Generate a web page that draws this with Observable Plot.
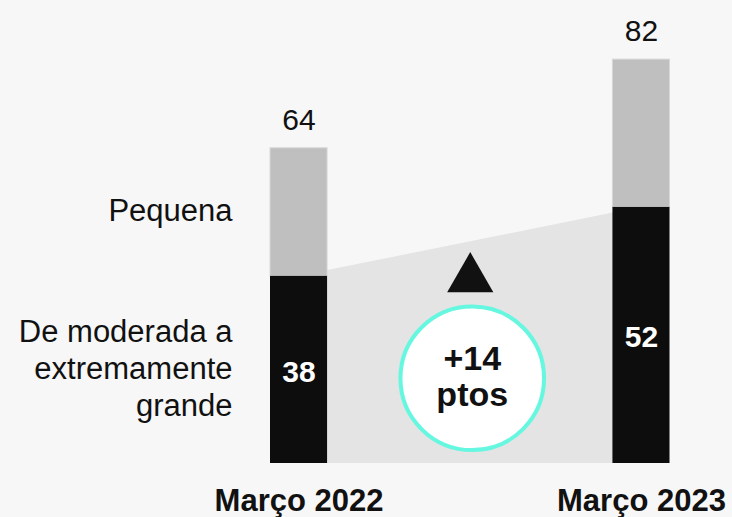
<!DOCTYPE html>
<html>
<head>
<meta charset="utf-8">
<script src="https://cdn.jsdelivr.net/npm/d3@7"></script>
<script src="https://cdn.jsdelivr.net/npm/@observablehq/plot@0.6"></script>
<style>
  html, body { margin: 0; padding: 0; background: #f7f7f7; }
  #chart { width: 732px; height: 517px; }
</style>
</head>
<body>
<div id="chart"></div>
<script>
// ---- Data ----
const periods = ["Março 2022", "Março 2023"];
const lowerValues = [38, 52];          // De moderada a extremamente grande
const totals = [64, 82];               // total (top of stacked bar)
const segmentLabels = ["De moderada a\nextremamente\ngrande", "Pequena"];
const changeLabel = "+14\nptos";

// ---- Build tables ----
const half = 1 / 12; // half bar width in index units
const lower = periods.map((p, i) => ({i, period: p, y1: 0, y2: lowerValues[i], v: lowerValues[i]}));
const upper = periods.map((p, i) => ({i, period: p, y1: lowerValues[i], y2: totals[i], v: totals[i]}));
const legend = [
  {text: segmentLabels[0], y: lowerValues[0] / 2},
  {text: segmentLabels[1], y: (lowerValues[0] + totals[0]) / 2}
];
const change = [{text: changeLabel, x: 0.5}];
const teal = "#66f7e0";
const font = "'Liberation Sans', Arial, sans-serif";

const chart = Plot.plot({
  width: 732,
  height: 517,
  marginTop: 0,
  marginBottom: 54,
  marginLeft: 270,
  marginRight: 62.5,
  style: {background: "#f7f7f7", fontFamily: font, color: "#111"},
  x: {type: "linear", domain: [-half, 1 + half], axis: null},
  y: {domain: [0, 94], axis: null},
  marks: [
    Plot.areaY(lower, {x: "i", y: "v", fill: "#e4e4e4"}),
    Plot.rect(upper, {x1: d => d.i - half, x2: d => d.i + half, y1: "y1", y2: "y2",
      fill: "#bfbfbf", stroke: "#d8d8d8", strokeWidth: 1}),
    Plot.rect(lower, {x1: d => d.i - half, x2: d => d.i + half, y1: "y1", y2: "y2", fill: "#0d0d0d"}),
    Plot.text(upper, {x: "i", y: "y2", text: d => String(d.v), lineAnchor: "bottom", dy: -18.5,
      fontSize: 30, fill: "#111"}),
    Plot.text(lower, {x: "i", y: d => d.v / 2, text: d => String(d.v), fill: "#fff",
      fontWeight: "bold", fontSize: 30, dy: 2}),
    Plot.text(legend, {x: -half, y: "y", text: "text", dx: -38, dy: -3, textAnchor: "end",
      fontSize: 31, lineHeight: 1.2, fill: "#111"}),
    Plot.dot(change, {x: "x", y: 37.5, symbol: "triangle", r: 17.15, fill: "#111"}),
    Plot.dot(change, {x: "x", y: 17.3, r: 71.8, fill: "#fff", stroke: teal, strokeWidth: 4, dx: 2}),
    Plot.text(change, {x: "x", y: 17.3, text: "text", fontSize: 34, fontWeight: "bold",
      lineHeight: 1.04, dx: 2, dy: -1.7, fill: "#111"}),
    Plot.axisX({ticks: periods.map((_, i) => i), tickFormat: i => periods[i], tickSize: 0,
      tickPadding: 25, fontSize: 31, fontWeight: "bold", fill: "#111"})
  ]
});
document.getElementById("chart").appendChild(chart);
</script>
</body>
</html>
